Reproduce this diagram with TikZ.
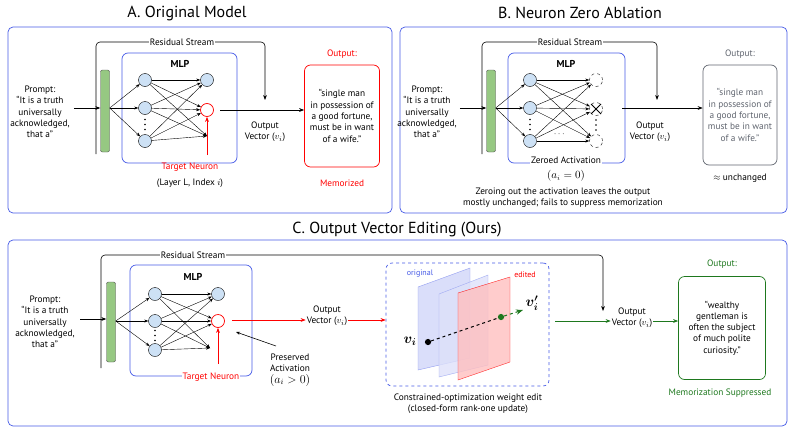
\documentclass[tikz,border=0pt]{standalone}
\usepackage{amsmath}
\usepackage{bm}
\usepackage{fontspec}
\setmainfont{PT Sans}
\usetikzlibrary{arrows.meta,calc}
\definecolor{pblue}{RGB}{70,90,230}
\definecolor{nfill}{RGB}{205,225,245}
\definecolor{gbar}{RGB}{150,200,130}
\definecolor{dgreen}{RGB}{30,120,30}
\definecolor{gtxt}{RGB}{95,100,110}
\newcommand\vdts[1]{\foreach \dy in {-5,0,5}{\fill ($(#1)+(0,\dy)$) circle (0.8pt);}}
\begin{document}
\begin{tikzpicture}[x=1pt,y=-1pt,
  txt/.style={font=\fontsize{9.3}{11.3}\selectfont,align=center,inner sep=1pt},
  ttl/.style={font=\fontsize{16}{18}\selectfont},
  panel/.style={draw=pblue,rounded corners=5pt,line width=0.7pt},
  mlpbox/.style={draw=pblue,rounded corners=6pt,line width=0.7pt},
  neu/.style={circle,draw,fill=nfill,minimum size=13pt,inner sep=0pt},
  tneu/.style={circle,draw=red,fill=white,minimum size=13pt,inner sep=0pt,line width=0.7pt},
  dneu/.style={circle,draw,dashed,minimum size=13pt,inner sep=0pt},
  bar/.style={draw=black!70,fill=gbar,rounded corners=2pt},
  arr/.style={-{Stealth[length=5pt]},line width=0.6pt},
  thin/.style={-{Stealth[length=4pt]},line width=0.4pt},
  res/.style={line width=0.8pt,rounded corners=4pt}]
\useasboundingbox (0,0) rectangle (794,434);
% ---------- Panel A ----------
\node[ttl] (tA) at (187,13) {A. Original Model};
\draw[panel] (8,27) rectangle (392,213);
\coordinate (rA1) at (96,154); \coordinate (rA2) at (265,100);
\draw[res,arr] (rA1) |- (265,42) -- (rA2);
\node[txt,fill=white] (rsA) at (182,42) {Residual Stream};
\node[bar,minimum width=9pt,minimum height=82pt] (barA) at (105,111) {};
\draw[mlpbox] (122,53) rectangle (237,163);
\node[txt,font=\bfseries\fontsize{10}{11}\selectfont] (mlpA) at (180,64) {MLP};
\node[neu] (a1) at (145,80) {};
\node[neu] (a2) at (145,108) {};
\node[neu] (a3) at (145,141) {};
\coordinate (ad) at (145,124.5); \vdts{ad}
\node[neu] (ao1) at (207,80) {};
\node[tneu] (ao2) at (207,110) {};
\coordinate (ao3) at (207,136);
\foreach \i in {a1,a2,a3}{\draw[thin] (barA.east |- a2) -- (\i);}
\foreach \i in {a1,a2,a3}{\foreach \j in {ao1,ao2}{\draw[thin] (\i) -- (\j);}\draw[thin] (\i) -- (ao3);}
\node[txt] (pA) at (40,112) {Prompt:\\``It is a truth\\universally\\acknowledged,\\that a''};
\draw[arr] (pA.east |- a2) ++(3,0) -- (barA.west |- a2);
\coordinate (tgA) at (207,155);
\draw[arr,red] (tgA) -- (ao2);
\node[txt,red] (tnA) at (190,167) {Target Neuron};
\node[txt] (liA) at (190,183) {(Layer L, Index $i$)};
\node[draw=red,rounded corners=6pt,minimum width=75pt,minimum height=102pt,line width=0.7pt] (oA) at (342,116) {};
\node[txt] (otA) at (oA) {``single man\\in possession of\\a good fortune,\\must be in want\\of a wife.''};
\draw[arr] (220,110) -- (oA.west |- 0,110);
\node[txt] (ovA) at (265,132) {Output\\Vector ($v_i$)};
\node[txt,red] (ohA) at (342,54) {Output:};
\node[txt,red] (mA) at (342,183) {Memorized};
% ---------- Panel B ----------
\node[ttl] (tB) at (580,13) {B. Neuron Zero Ablation};
\draw[panel] (400,27) rectangle (787,213);
\coordinate (rB1) at (482,154); \coordinate (rB2) at (657,100);
\draw[res,arr] (rB1) |- (657,42) -- (rB2);
\node[txt,fill=white] (rsB) at (570,42) {Residual Stream};
\node[bar,minimum width=9pt,minimum height=82pt] (barB) at (491,111) {};
\draw[mlpbox] (508,53) rectangle (625,163);
\node[txt,font=\bfseries\fontsize{10}{11}\selectfont] (mlpB) at (566,64) {MLP};
\node[neu] (b1) at (530,80) {};
\node[neu] (b2) at (530,108) {};
\node[neu] (b3) at (530,141) {};
\coordinate (bd) at (530,124.5); \vdts{bd}
\node[dneu] (bo1) at (596,80) {};
\node[dneu] (bo2) at (596,109) {};
\node[dneu] (bo3) at (596,141) {};
\coordinate (bd2) at (596,125); \vdts{bd2}
\node[txt] (bdots) at (560,134) {$\cdots$};
\draw[line width=1pt] ($(bo2)+(-5,-5)$) -- ($(bo2)+(5,5)$) ($(bo2)+(-5,5)$) -- ($(bo2)+(5,-5)$);
\foreach \i in {b1,b2,b3}{\draw[thin] (barB.east |- b2) -- (\i);}
\foreach \i in {b1,b2,b3}{\foreach \j in {bo1,bo2,bo3}{\draw[thin] (\i) -- (\j);}}
\node[txt] (pB) at (427,112) {Prompt:\\``It is a truth\\universally\\acknowledged,\\that a''};
\draw[arr] (pB.east |- b2) ++(2,0) -- (barB.west |- b2);
\node[txt,fill=white] (zaB) at (566,160) {Zeroed Activation};
\node[txt,font=\fontsize{10.5}{12}\selectfont] (zeB) at (566,176) {$(a_i=0)$};
\node[txt] (capB) at (563,198) {Zeroing out the activation leaves the output\\mostly unchanged; fails to suppress memorization};
\node[draw=gtxt,rounded corners=6pt,minimum width=74pt,minimum height=100pt,line width=0.7pt] (oB) at (740,115) {};
\node[txt,gtxt] (otB) at (oB) {``single man\\in possession of\\a good fortune,\\must be in want\\of a wife.''};
\draw[arr] (622,108) -- (oB.west |- 0,108);
\node[txt] (ovB) at (650,132) {Output\\Vector ($v_i$)};
\node[txt,gtxt] (ohB) at (740,54) {Output:};
\node[txt] (uB) at (740,178) {$\approx$ unchanged};
% ---------- Panel C ----------
\node[ttl] (tC) at (397,230) {C. Output Vector Editing (Ours)};
\draw[panel] (8,240) rectangle (787,426);
\coordinate (rC1) at (101,368); \coordinate (rC2) at (603,311);
\draw[res,arr] (rC1) |- (603,255) -- (rC2);
\node[txt,fill=white] (rsC) at (193,255) {Residual Stream};
\node[bar,minimum width=9pt,minimum height=80pt] (barC) at (111,322) {};
\draw[mlpbox] (130,265) rectangle (252,376);
\node[txt,font=\bfseries\fontsize{10}{11}\selectfont] (mlpC) at (193,277) {MLP};
\node[neu] (c1) at (155,294) {};
\node[neu] (c2) at (155,321) {};
\node[neu] (c3) at (155,350) {};
\coordinate (cd) at (155,335.5); \vdts{cd}
\node[neu] (co1) at (218,294) {};
\node[tneu] (co2) at (218,321) {};
\coordinate (co3) at (210,348);
\foreach \i in {c1,c2,c3}{\draw[thin] (barC.east |- c2) -- (\i);}
\foreach \i in {c1,c2,c3}{\foreach \j in {co1,co2}{\draw[thin] (\i) -- (\j);}\draw[thin] (\i) -- (co3);}
\node[txt] (pC) at (45,322) {Prompt:\\``It is a truth\\universally\\acknowledged,\\that a''};
\draw[arr] (80,319) -- (barC.west |- 0,319);
\coordinate (tgC) at (218,364);
\draw[arr,red] (tgC) -- (co2);
\node[txt,red,fill=white] (tnC) at (211,377) {Target Neuron};
\node[txt] (ovC) at (327,316) {Output\\Vector ($v_i$)};
\draw[arr,red] (232,320) -- (ovC.west |- 0,320);
\coordinate (pe1) at (276,346);
\draw[thin,line width=0.6pt] (pe1) -- (236,332);
\node[txt] (peC) at (290,370) {Preserved\\Activation\\{\large$(a_i>0)$}};
\node[draw=pblue,dashed,rounded corners=6pt,minimum width=163pt,minimum height=123pt,line width=0.7pt] (edC) at (467.5,324.5) {};
\draw[arr,red] (ovC.east |- 0,320) -- (edC.west |- 0,320);
\node[txt,pblue,font=\fontsize{8}{9}\selectfont] (orC) at (420,274) {original};
\node[txt,red,font=\fontsize{8}{9}\selectfont] (eiC) at (525,275) {edited};
\filldraw[draw=pblue!70,fill=pblue!25,opacity=0.8] (418,287) -- (470,268) -- (470,358) -- (418,370) -- cycle;
\filldraw[draw=pblue!60,fill=pblue!18,opacity=0.8] (439,294) -- (488,275) -- (488,365) -- (439,377) -- cycle;
\filldraw[draw=red,fill=red!25,opacity=0.8] (458,293) -- (510,277) -- (510,362) -- (458,380) -- cycle;
\node[circle,fill=black,inner sep=2.2pt] (vi) at (428,342) {};
\node[circle,fill=dgreen,inner sep=2.2pt] (vp) at (501,317) {};
\coordinate (vt) at (523,310);
\draw[dashed,line width=1pt] (vi) -- (vp);
\draw[dashed,line width=1pt,-{Stealth[length=7pt]},dgreen] (vp) -- (vt);
\node[font=\fontsize{14}{14}\selectfont] (viL) at (410,341) {$\bm{v_i}$};
\node[font=\fontsize{14}{14}\selectfont] (vpL) at (532,303) {$\bm{v'_i}$};
\node[txt] (capC) at (468,404) {Constrained-optimization weight edit\\(closed-form rank-one update)};
\node[txt] (ov2C) at (632,318) {Output\\Vector ($v_i$)};
\draw[arr,dgreen] (edC.east |- 0,321) ++(6,0) -- (ov2C.west |- 0,321);
\node[draw=dgreen,rounded corners=6pt,minimum width=87pt,minimum height=103pt,line width=0.7pt] (oC) at (722,328) {};
\node[txt] (otC) at (oC) {``wealthy\\gentleman is\\often the subject\\of much polite\\curiosity.''};
\draw[arr,dgreen] (ov2C.east |- 0,321) -- (oC.west |- 0,321);
\node[txt,dgreen] (ohC) at (722,264) {Output:};
\node[txt,dgreen] (msC) at (720,393) {Memorization Suppressed};
\end{tikzpicture}
\end{document}
